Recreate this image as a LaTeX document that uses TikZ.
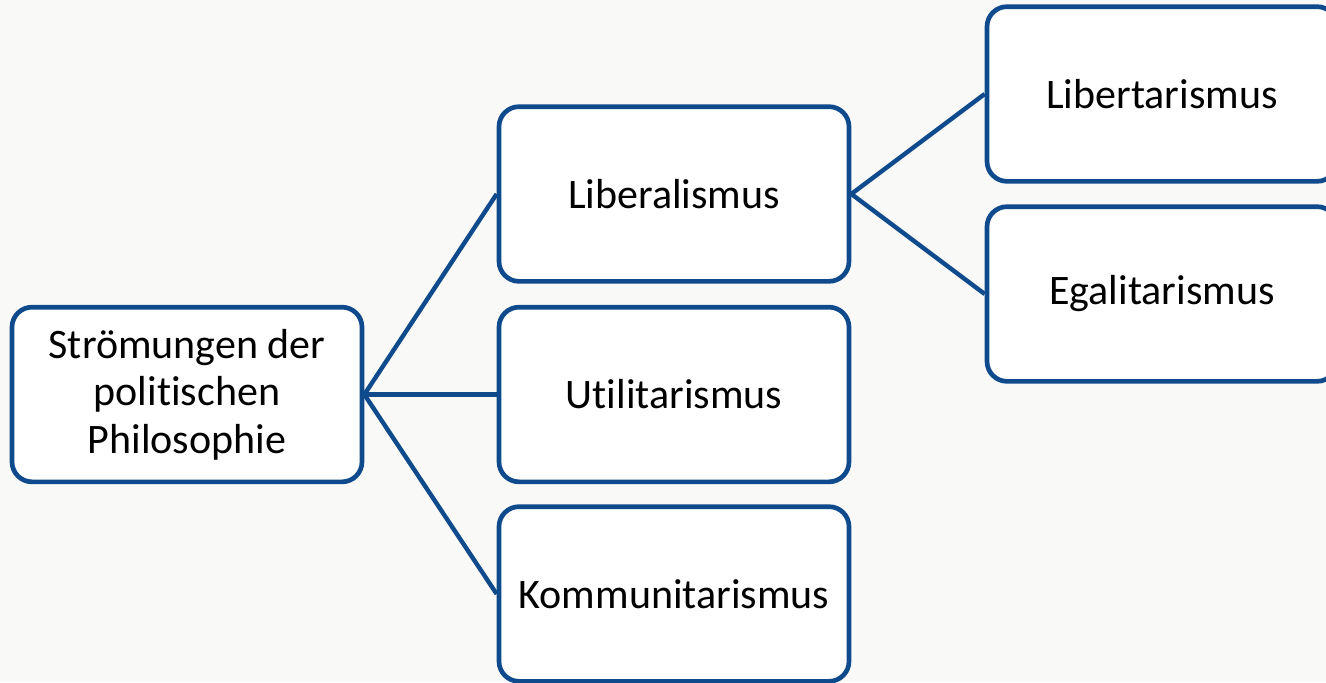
\documentclass[tikz,border=0pt]{standalone}
\usepackage{fontspec}
\setmainfont{Carlito}[Ligatures=NoCommon,RawFeature={-liga;-dlig;-clig}]
\definecolor{blueline}{RGB}{14,74,140}
\definecolor{bgcol}{RGB}{249,249,247}
\begin{document}
\begin{tikzpicture}[x=0.75pt,y=-0.75pt,
  box/.style={draw=blueline, line width=3.5pt, fill=white, rounded corners=15pt,
    minimum width=262.5pt, minimum height=131pt, align=center, inner sep=0pt,
    font=\fontsize{31.5}{35.6}\selectfont},
  link/.style={draw=blueline, line width=3.3pt}]
\useasboundingbox (0,0) rectangle (1326,682);
\fill[bgcol] (0,0) rectangle (1326,682);
\clip (0,0) rectangle (1326,682);
\node[box] (root) at (187,394.5) {Strömungen der\\politischen\\Philosophie};
\node[box] (lib) at (674,194) {Liberalismus};
\node[box] (uti) at (674,394.5) {Utilitarismus};
\node[box] (kom) at (674,594) {Kommunitarismus};
\node[box] (lbt) at (1162,94) {Libertarismus};
\node[box] (ega) at (1162,294) {Egalitarismus};
\draw[link] (root.east) -- (lib.west);
\draw[link] (root.east) -- (uti.west);
\draw[link] (root.east) -- (kom.west);
\draw[link] (lib.east) -- (lbt.west);
\draw[link] (lib.east) -- (ega.west);
\end{tikzpicture}
\end{document}
